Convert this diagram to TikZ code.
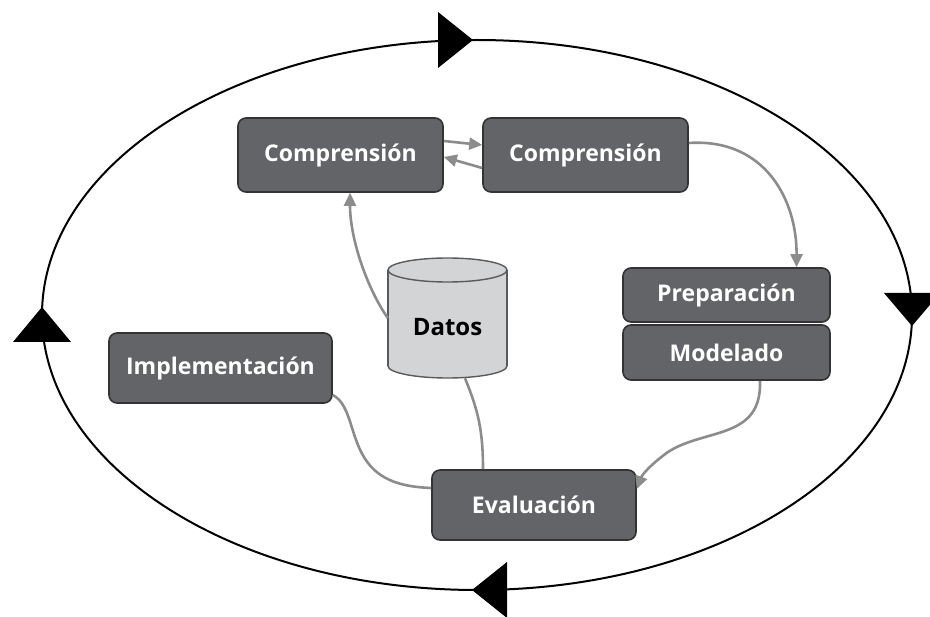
\documentclass[tikz,border=0pt]{standalone}
\usepackage{fontspec}
\setmainfont{Open Sans}
\usetikzlibrary{arrows.meta}
\definecolor{boxfill}{HTML}{636468}
\definecolor{boxdraw}{HTML}{333333}
\definecolor{conncol}{HTML}{8C8C8C}
\definecolor{cylfill}{HTML}{D3D4D6}
\definecolor{cyldraw}{HTML}{5A5A5A}
\tikzset{
  stage/.style={draw=boxdraw, line width=1.6pt, fill=boxfill, rounded corners=8pt,
    text=white, font=\bfseries\fontsize{23}{27}\selectfont, inner sep=0pt},
  conn/.style={draw=conncol, line width=2.6pt},
  tipped/.style={-{Triangle[length=13pt,width=12pt]}},
  cycleline/.style={draw=black, line width=2pt},
  cycletri/.style={fill=black}
}
\begin{document}
\begin{tikzpicture}[x=1pt,y=-1pt]
\useasboundingbox (0,0) rectangle (930,617);
% outer cycle
\draw[cycleline] (477,315) ellipse [x radius=435pt, y radius=275pt];
\fill[cycletri] (438,12) -- (473,40) -- (438,68) -- cycle;
\fill[cycletri] (507,562) -- (472,590) -- (507,618) -- cycle;
\fill[cycletri] (13,342) -- (42,307) -- (71,342) -- cycle;
\fill[cycletri] (884,293) -- (912,326) -- (940,293) -- cycle;
% stages
\node[stage, minimum width=205pt, minimum height=74pt] (comp1) at (340.5,155) {Comprensión};
\node[stage, minimum width=205pt, minimum height=74pt] (comp2) at (585.5,155) {Comprensión};
\node[stage, minimum width=207pt, minimum height=54pt] (prep) at (726.5,295) {Preparación};
\node[stage, minimum width=207pt, minimum height=55pt] (model) at (726.5,352.5) {Modelado};
\node[stage, minimum width=223pt, minimum height=70pt] (impl) at (220.5,368) {Implementación};
\node[stage, minimum width=204pt, minimum height=70pt] (eval) at (534,505) {Evaluación};
% data store
\fill[cylfill, draw=cyldraw, line width=1.4pt] (447.5,366) ellipse [x radius=59.5pt, y radius=12pt];
\fill[cylfill] (388,270) rectangle (507,366);
\draw[cyldraw, line width=1.4pt] (388,270) -- (388,366) (507,270) -- (507,366);
\fill[cylfill, draw=cyldraw, line width=1.4pt] (447.5,270) ellipse [x radius=59.5pt, y radius=12pt];
\node[minimum width=119pt, minimum height=120pt, inner sep=0pt] (datos) at (447.5,318) {};
\node[font=\bfseries\fontsize{24}{28}\selectfont, text=black] (datoslbl) at (447.5,327) {Datos};
% connectors
\draw[conn,tipped] ([yshift=14pt]comp1.east) -- ([yshift=10pt]comp2.west);
\draw[conn,tipped] ([yshift=-13pt]comp2.west) -- ([yshift=-2pt]comp1.east);
\draw[conn,tipped] ([yshift=12pt]comp2.east) .. controls (765,138) and (797,200) .. ([xshift=70pt]prep.north);
\draw[conn,tipped] (datos.west) .. controls (368,290) and (350,240) .. ([xshift=9.5pt]comp1.south);
\draw[conn] ([xshift=17.5pt]datos.south) .. controls (478,410) and (483,430) .. ([xshift=-51pt]eval.north);
\draw[conn] ([yshift=-27pt]impl.east) .. controls (352,405) and (350,440) .. (368,463)
  .. controls (384,484) and (410,487) .. ([yshift=17pt]eval.west);
\draw[conn,tipped] ([xshift=33.5pt]model.south) .. controls (762,440) and (705,428) .. (668,452)
  .. controls (650,465) and (642,475) .. ([yshift=16pt]eval.east);
\end{tikzpicture}
\end{document}
